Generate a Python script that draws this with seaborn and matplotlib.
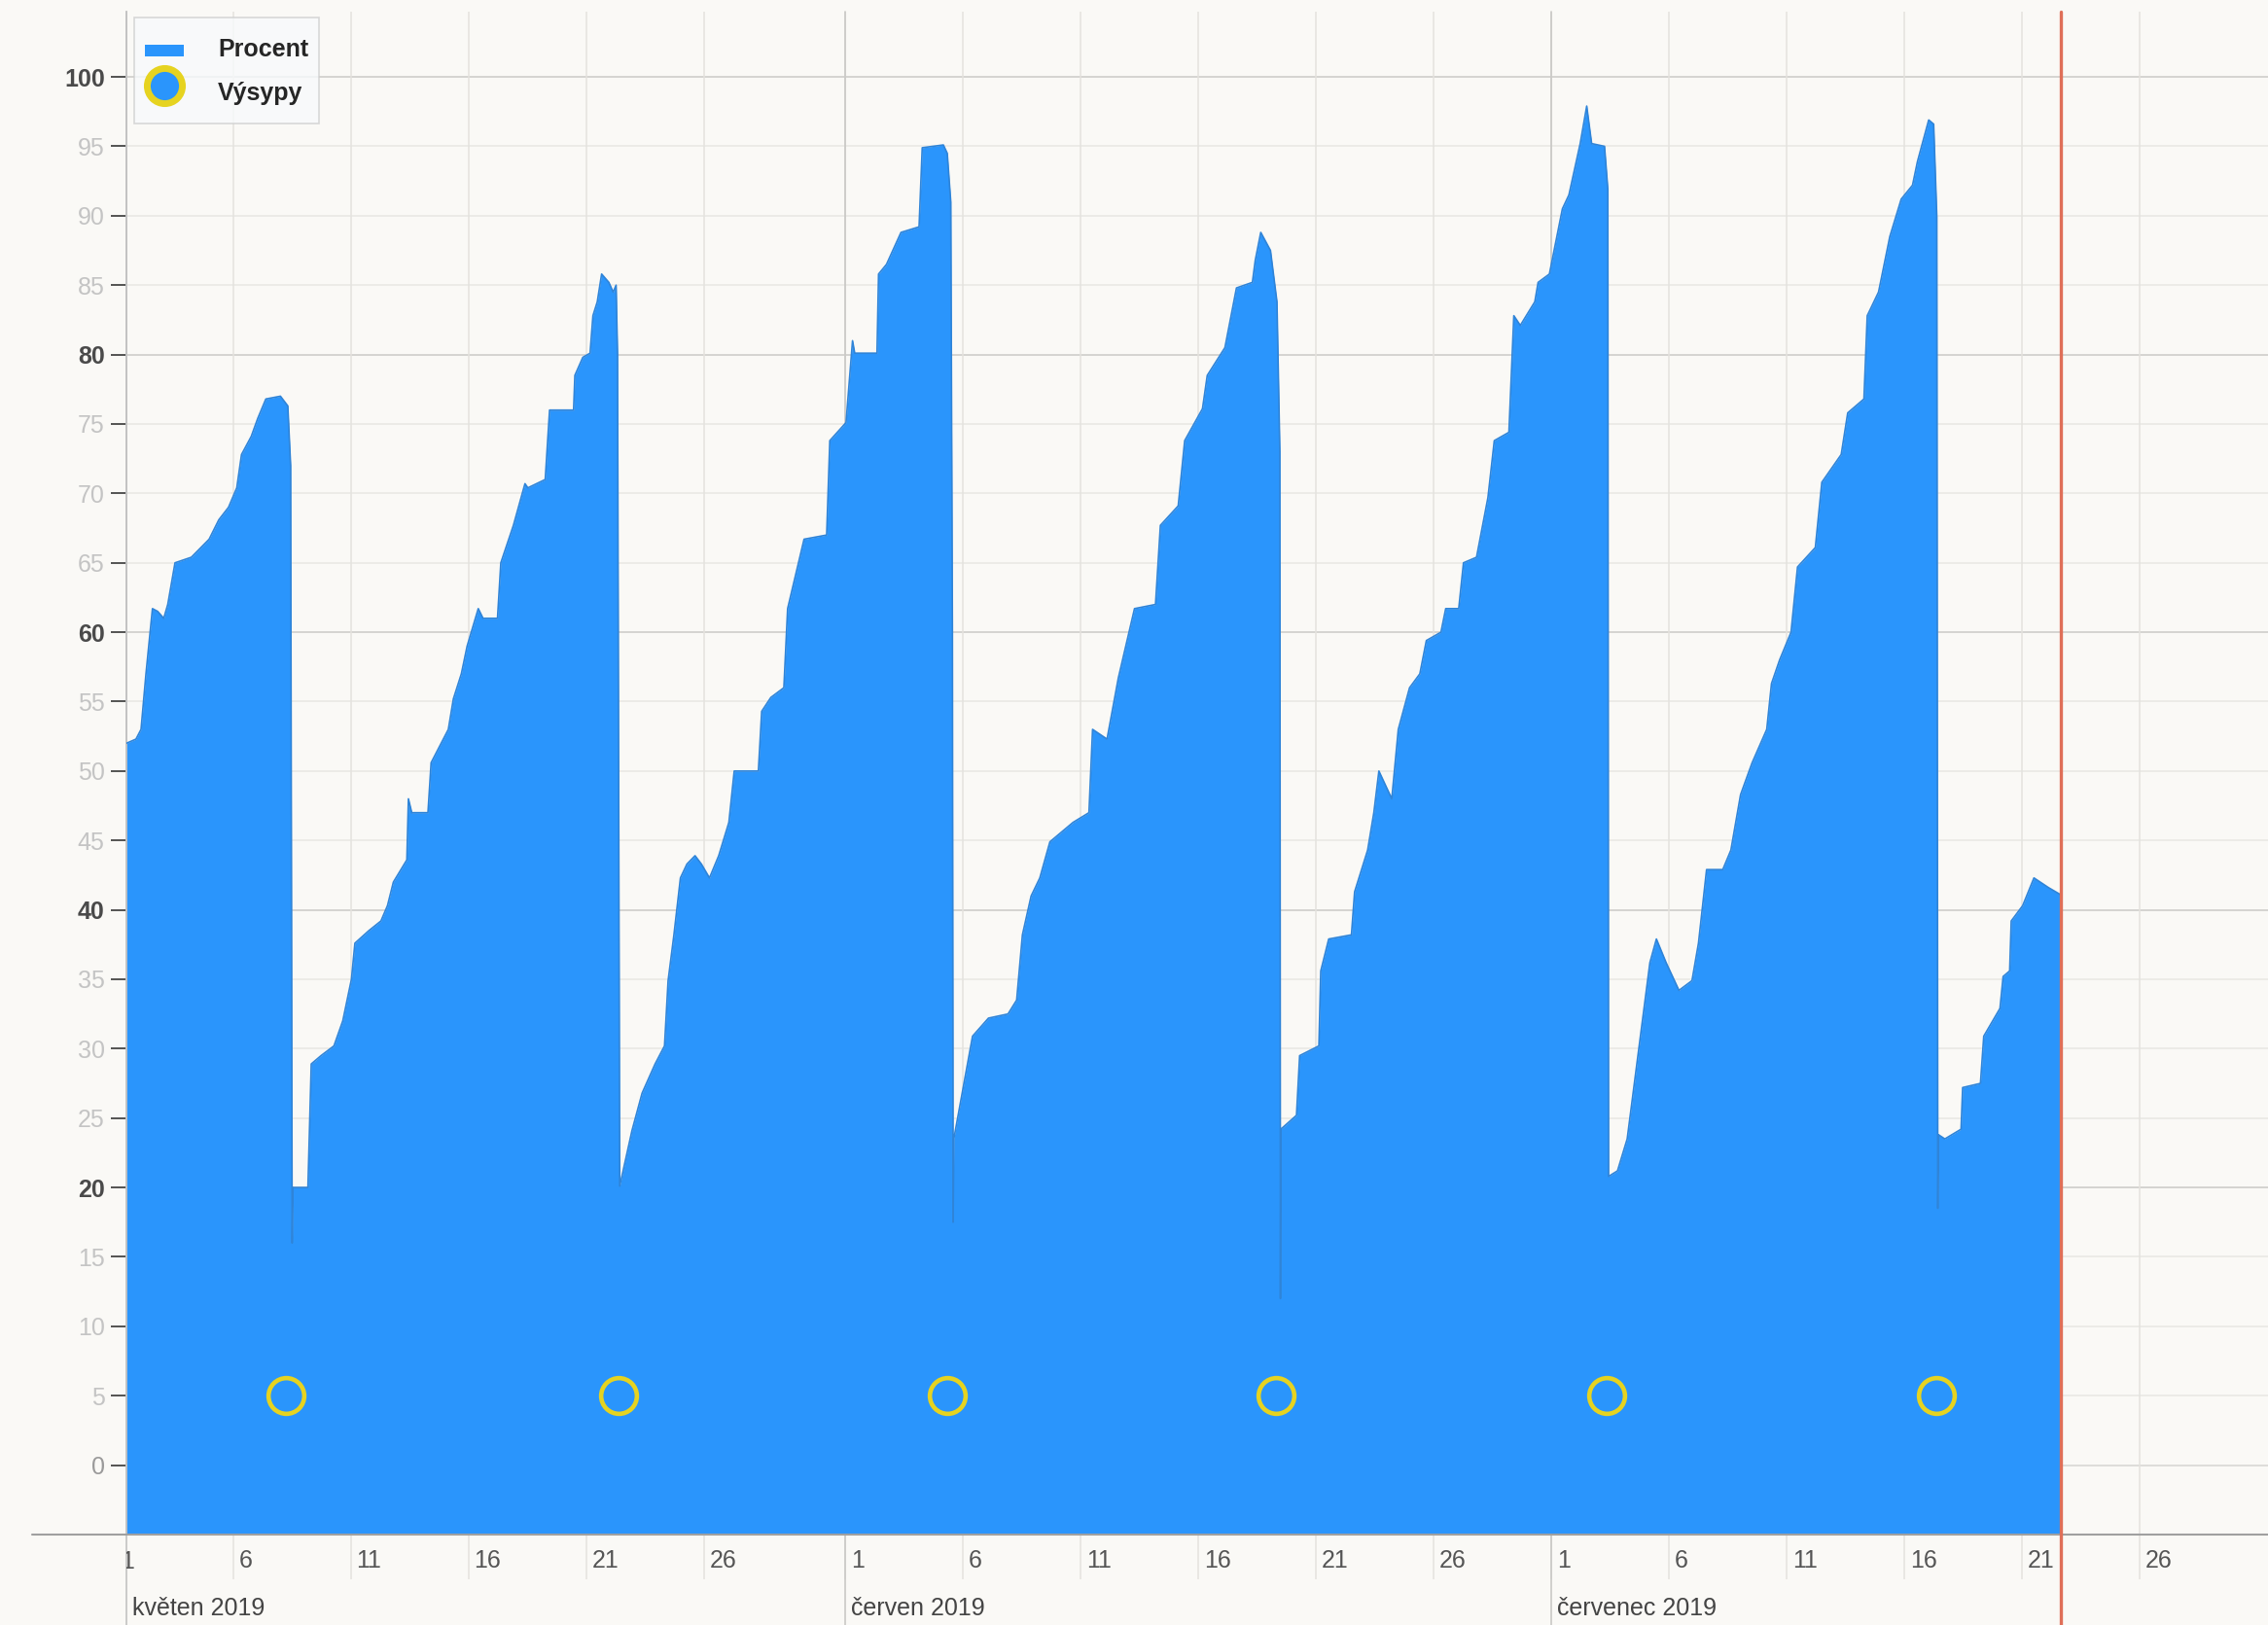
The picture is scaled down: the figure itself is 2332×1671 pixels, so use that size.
import numpy as np
import pandas as pd
import matplotlib
matplotlib.use("Agg")
import matplotlib.pyplot as plt
import matplotlib.transforms as mtransforms
from matplotlib.patches import Patch, Rectangle
from matplotlib.lines import Line2D
from matplotlib.legend_handler import HandlerPatch
import seaborn as sns

# ---------------- data ----------------
START = "2019-05-01"

# fractional days since 2019-05-01 00:00
procent_days = [
    0.473, 0.879, 1.094, 1.303, 1.579, 1.80, 2.059, 2.23, 2.538, 3.232, 3.988, 4.40,
    4.812, 5.162, 5.364, 5.776, 6.053, 6.397, 7.017, 7.33, 7.45, 7.515, 7.55,
    8.185, 8.327, 8.744, 9.291, 9.666, 10.034, 10.182, 10.772, 11.288, 11.565, 11.816,
    12.388, 12.455, 12.597, 13.285, 13.42, 13.844, 14.151, 14.366, 14.704, 14.95,
    15.423, 15.626, 16.24, 16.382, 16.917, 17.408, 17.531, 18.268, 18.453, 19.473,
    19.528, 19.866, 20.173, 20.296, 20.48, 20.665, 20.972, 21.156, 21.279, 21.34, 21.433,
    21.955, 22.385, 22.937, 23.337, 23.49, 23.737, 24.013, 24.29, 24.634, 24.903,
    25.248, 25.64, 26.072, 26.299, 27.325, 27.466, 27.855, 28.408, 28.568, 29.267,
    30.226, 30.361, 31.05, 31.326, 31.419, 32.365, 32.432, 32.77, 33.385, 34.153,
    34.288, 35.185, 35.35, 35.50, 35.57, 35.60, 35.63,
    36.426, 37.102, 37.932, 38.30, 38.545, 38.915, 39.284, 39.713, 40.696, 41.372,
    41.526, 42.14, 42.62, 43.308, 44.199, 44.408, 45.164, 45.44, 46.196, 46.399,
    47.149, 47.64, 48.316, 48.439, 48.672, 49.084, 49.36, 49.483, 49.508, 49.526,
    50.19, 50.325, 51.142, 51.222, 51.56, 52.525, 52.66, 53.213, 53.477, 53.692,
    54.239, 54.516, 54.995, 55.431, 55.708, 56.328, 56.531, 57.084, 57.286, 57.84,
    58.325, 58.595, 59.216, 59.425, 59.701, 60.316, 60.457, 60.936, 61.489, 61.766,
    62.245, 62.522, 62.731, 63.278, 63.419, 63.45,
    63.83, 64.242, 64.654, 65.207, 65.483, 65.895, 66.442, 66.995, 67.271, 67.615,
    68.303, 68.648, 69.06, 69.551, 70.172, 70.374, 70.718, 71.204, 71.48, 72.236,
    72.513, 73.336, 73.613, 74.301, 74.442, 74.922, 75.401, 75.886, 76.366, 76.575,
    77.054, 77.263, 77.398, 77.44, 77.47,
    77.74, 78.428, 78.496, 79.252, 79.393, 80.081, 80.216, 80.493, 80.56, 81.046,
    81.525, 82.146, 82.65,
]
procent_values = [
    52.0, 52.3, 53.0, 57.0, 61.7, 61.5, 61.0, 62.0, 65.0, 65.4, 66.7, 68.1,
    69.0, 70.4, 72.8, 74.1, 75.4, 76.8, 77.0, 76.3, 72.0, 16.0, 20.0,
    20.0, 28.9, 29.5, 30.2, 32.0, 35.0, 37.6, 38.5, 39.2, 40.3, 42.0,
    43.6, 48.0, 47.0, 47.0, 50.6, 52.0, 53.0, 55.2, 57.0, 59.0,
    61.7, 61.0, 61.0, 65.0, 67.7, 70.7, 70.4, 71.0, 76.0, 76.0,
    78.5, 79.8, 80.1, 82.8, 83.8, 85.8, 85.2, 84.5, 85.0, 80.0, 20.1,
    24.1, 26.8, 28.9, 30.2, 34.9, 38.2, 42.3, 43.3, 43.9, 43.3,
    42.3, 43.9, 46.3, 50.0, 50.0, 54.3, 55.3, 56.0, 61.7, 66.7,
    67.0, 73.8, 75.1, 81.0, 80.1, 80.1, 85.8, 86.5, 88.8, 89.2,
    94.9, 95.1, 94.5, 91.0, 60.0, 17.5, 23.5,
    30.9, 32.2, 32.5, 33.5, 38.2, 41.0, 42.3, 44.9, 46.3, 47.0,
    53.0, 52.3, 56.7, 61.7, 62.0, 67.7, 69.1, 73.8, 76.1, 78.5,
    80.5, 84.8, 85.2, 86.8, 88.8, 87.5, 83.8, 73.0, 12.0, 24.2,
    25.2, 29.5, 30.2, 35.6, 37.9, 38.2, 41.3, 44.3, 47.0, 50.0,
    48.0, 53.0, 56.0, 57.0, 59.4, 60.0, 61.7, 61.7, 65.0, 65.4,
    69.7, 73.8, 74.4, 82.8, 82.1, 83.8, 85.2, 85.8, 90.5, 91.5,
    95.2, 97.9, 95.2, 95.0, 91.9, 20.8,
    21.2, 23.5, 28.9, 36.2, 37.9, 36.2, 34.2, 34.9, 37.6, 42.9,
    42.9, 44.3, 48.3, 50.6, 53.0, 56.3, 58.0, 60.0, 64.7, 66.1,
    70.8, 72.8, 75.8, 76.8, 82.8, 84.5, 88.5, 91.2, 92.2, 93.9,
    96.9, 96.6, 89.9, 18.5, 23.8,
    23.5, 24.2, 27.2, 27.5, 30.9, 32.9, 35.2, 35.6, 39.2, 40.3,
    42.3, 41.6, 41.1,
]

vysypy_days = [7.27, 21.40, 35.35, 49.30, 63.37, 77.38]
vysypy_values = [5, 5, 5, 5, 5, 5]

now_day = 82.68          # red "today" line
view_end_day = 91.47     # right edge of the visible window

tick_days_of_month = [1, 6, 11, 16, 21, 26]
month_starts = ["2019-05-01", "2019-06-01", "2019-07-01"]
month_labels = ["květen 2019", "červen 2019", "červenec 2019"]
y_ticks = list(range(0, 101, 5))
series_labels = ["Procent", "Výsypy"]

# ---------------- style ----------------
BG = "#FAF9F6"
BLUE = "#2A95FC"
EDGE = "#2F84D8"
YELLOW = "#E6D320"
RED = "#DF6F58"
FS = 18

sns.set_theme(style="white", rc={"axes.facecolor": BG, "figure.facecolor": BG,
                                 "savefig.facecolor": BG})
plt.rcParams["font.family"] = ["Liberation Sans", "DejaVu Sans"]

W, H = 2332, 1671
fig = plt.figure(figsize=(W / 100, H / 100), dpi=100)
AX_L, AX_R, AX_T, AX_B = 130, 2332, 12, 1578
ax = fig.add_axes([AX_L / W, 1 - AX_B / H, (AX_R - AX_L) / W, (AX_B - AX_T) / H])
ax_h_px = AX_B - AX_T
ax_w_px = AX_R - AX_L

start = pd.Timestamp(START)
df = pd.DataFrame({"cas": start + pd.to_timedelta(procent_days, unit="D"),
                   "Procent": procent_values})
dv = pd.DataFrame({"cas": start + pd.to_timedelta(vysypy_days, unit="D"),
                   "Vysypy": vysypy_values})

YMIN, YMAX = -5, 104.7

# horizontal grid lines
for v in y_ticks:
    if v == 0:
        c = "#D6D5D2"
    elif v % 20 == 0:
        c = "#CBCAC7"
    else:
        c = "#E9E7E3"
    ax.axhline(v, color=c, lw=1.1, zorder=0.5)

# area + outline
ax.fill_between(df["cas"], YMIN, df["Procent"], color=BLUE, lw=0, zorder=2)
sns.lineplot(data=df, x="cas", y="Procent", color=EDGE, lw=1.2, ax=ax,
             zorder=3, legend=False, sort=True, estimator=None)

# dump markers
sns.scatterplot(data=dv, x="cas", y="Vysypy", s=700, color=BLUE,
                edgecolor=YELLOW, linewidth=3.3, ax=ax, zorder=4, legend=False)

ax.set_xlim(df["cas"].iloc[0], start + pd.Timedelta(days=view_end_day))
ax.set_ylim(YMIN, YMAX)
ax.set_xlabel("")
ax.set_ylabel("")

# x ticks
tick_dates = []
for ms in month_starts:
    m = pd.Timestamp(ms)
    for d in tick_days_of_month:
        td = m + pd.Timedelta(days=d - 1)
        if df["cas"].iloc[0] <= td <= start + pd.Timedelta(days=view_end_day):
            tick_dates.append(td)
ax.set_xticks(tick_dates)
ax.set_xticklabels([str(t.day) for t in tick_dates], ha="left")
ax.xaxis.grid(True, color="#E4E2DE", lw=1.1, zorder=0.4)
ax.set_axisbelow(True)
ax.tick_params(axis="x", direction="out", length=46 * 0.72, width=1.1,
               color="#E4E2DE", pad=-22, labelsize=FS, labelcolor="#555555",
               bottom=True)
off = mtransforms.ScaledTranslation(6 / 100, 0, fig.dpi_scale_trans)
for lab in ax.get_xticklabels():
    lab.set_transform(lab.get_transform() + off)

# clipped label "1" of May 1 (tick sits just left of the chart edge)
lab_y = -(1606 - AX_B) / ax_h_px
blend = mtransforms.blended_transform_factory(ax.transData, ax.transAxes)
t1 = ax.text(start, lab_y, "1", transform=blend + off, ha="left", va="center",
             fontsize=FS, color="#555555", clip_on=True)
t1.set_clip_box(mtransforms.TransformedBbox(
    mtransforms.Bbox([[0, -0.2], [1, 0]]), ax.transAxes))

# y ticks
ax.set_yticks(y_ticks)
ax.set_yticklabels([str(v) for v in y_ticks])
ax.tick_params(axis="y", direction="out", length=16 * 0.72, width=1.1,
               pad=4.5, labelsize=FS, left=True)
for tick, v, lab in zip(ax.yaxis.get_major_ticks(), y_ticks, ax.get_yticklabels()):
    if v == 0:
        tick.tick1line.set_color("#D6D5D2")
        lab.set_color("#9A9A9A")
    elif v % 20 == 0:
        tick.tick1line.set_color("#CBCAC7")
        lab.set_color("#4A4A4A")
        lab.set_fontweight("bold")
    else:
        tick.tick1line.set_color("#E9E7E3")
        lab.set_color("#C4C4C4")

for s in ["top", "right", "bottom"]:
    ax.spines[s].set_visible(False)
ax.spines["left"].set_color("#C2C2C2")
ax.spines["left"].set_linewidth(1.2)

# baseline extending to the left
ax.plot([-(AX_L - 33) / ax_w_px, 1], [0, 0], transform=ax.transAxes,
        color="#A0A0A0", lw=1.5, clip_on=False, zorder=5)

# month separators + labels
ext = -(H - AX_B) / ax_h_px
ax.axvline(df["cas"].iloc[0], ymin=ext, ymax=1, color="#C2C2C2", lw=1.2,
           clip_on=False, zorder=1)
month_y = -(1654 - AX_B) / ax_h_px
for i, (ms, ml) in enumerate(zip(month_starts, month_labels)):
    m = pd.Timestamp(ms)
    if i > 0:
        ax.axvline(m, ymin=ext, ymax=1, color="#C9C8C5", lw=1.2,
                   clip_on=False, zorder=1)
        xpos = m
    else:
        xpos = df["cas"].iloc[0]
    ax.text(xpos, month_y, ml, transform=blend + off, ha="left", va="center",
            fontsize=FS, color="#444444")

# "now" line
ax.axvline(start + pd.Timedelta(days=now_day), ymin=ext, ymax=1, color=RED,
           lw=2.4, clip_on=False, zorder=6)


# legend
def _area_handle(legend, orig_handle, xdescent, ydescent, width, height, fontsize):
    return Rectangle((-xdescent + 0, -ydescent + height * 0.30), width, height * 0.30)


handles = [
    Patch(facecolor=BLUE, edgecolor="none"),
    Line2D([], [], marker="o", ls="none", markersize=26, markerfacecolor=BLUE,
           markeredgecolor=YELLOW, markeredgewidth=5),
]
leg = fig.legend(handles, series_labels, loc="upper left",
                 bbox_to_anchor=(138 / W, 1 - 18 / H), frameon=True,
                 fancybox=False, fontsize=FS, handlelength=1.6,
                 handleheight=2.26, handletextpad=1.42, labelspacing=0.08,
                 borderpad=0.42, borderaxespad=0,
                 handler_map={Patch: HandlerPatch(patch_func=_area_handle)})
leg.get_frame().set_facecolor("#F8FAFC")
leg.get_frame().set_edgecolor("#CFCFCF")
leg.get_frame().set_linewidth(1.2)
for t in leg.get_texts():
    t.set_color("#262626")
    t.set_fontweight("bold")

fig.savefig("out.png", dpi=100, facecolor=BG)
